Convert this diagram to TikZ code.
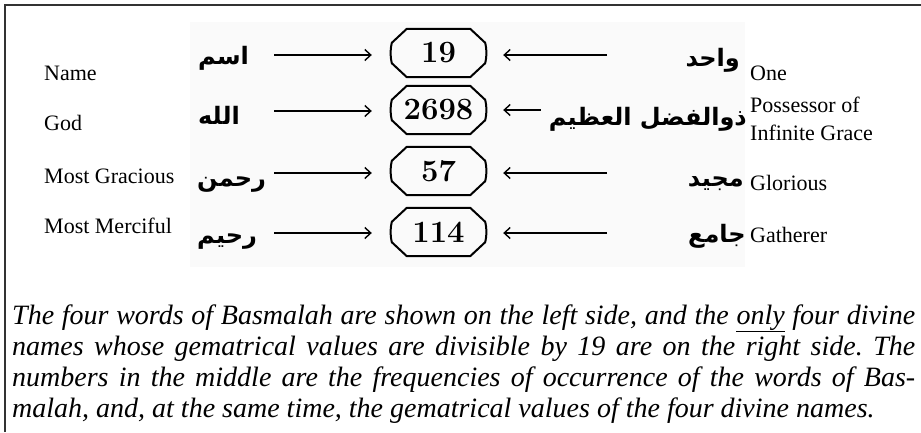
\documentclass[tikz,border=0pt]{standalone}
\usepackage{fontspec}
\newfontfamily\lserif{Liberation Serif}
\newfontfamily\arabicfont[Script=Arabic]{DejaVu Sans}
\TeXXeTstate=1
\usetikzlibrary{arrows.meta}
\begin{document}
\frenchspacing
\begin{tikzpicture}[x=1pt,y=-1pt,
  lab/.style={font=\lserif\fontsize{22}{28}\selectfont, inner sep=0pt},
  ar/.style={font=\arabicfont\bfseries\fontsize{24}{28}\selectfont, inner sep=0pt},
  numbox/.style={font=\fontsize{31}{31}\selectfont\bfseries, minimum width=93pt, minimum height=48pt, inner sep=0pt},
  octline/.style={line width=2pt, line join=round},
  arr/.style={line width=1.4pt, -{Straight Barb[length=6pt,width=11pt,line width=1.4pt]}},
  captxt/.style={font=\lserif\itshape\fontsize{28}{31}\selectfont, inner sep=0pt, anchor=base west}]
\useasboundingbox (0,0) rectangle (921,432);
\fill[white] (0,0) rectangle (921,432);
\fill[black!2] (190,22) rectangle (745,267);
\draw[line width=2pt, black!80] (5,432) -- (5,5) -- (921,5);

% left English labels
\node[lab, anchor=base west] (n1) at (44,80) {Name};
\node[lab, anchor=base west] (n2) at (44,130) {God};
\node[lab, anchor=base west] (n3) at (44,183) {Most Gracious};
\node[lab, anchor=base west] (n4) at (44,233) {Most Merciful};

% left Arabic words
\node[ar, anchor=base west] (la1) at (198,64) {\beginR اسم\endR};
\node[ar, anchor=base west] (la2) at (198,124) {\beginR الله\endR};
\node[ar, anchor=base west] (la3) at (197,186) {\beginR رحمن\endR};
\node[ar, anchor=base west] (la4) at (197,243) {\beginR رحيم\endR};

% number boxes
\node[numbox] (b1) at (438.5,53) {19};
\node[numbox] (b2) at (438.5,110) {2698};
\node[numbox] (b3) at (438.5,171) {57};
\node[numbox] (b4) at (438.5,232) {114};
\foreach \b in {b1,b2,b3,b4}{
  \draw[octline] ([xshift=15pt]\b.north west) -- ([xshift=-15pt]\b.north east)
    -- ([yshift=-14pt]\b.north east) to[bend left=12] ([yshift=14pt]\b.south east)
    -- ([xshift=-15pt]\b.south east) -- ([xshift=15pt]\b.south west)
    -- ([yshift=14pt]\b.south west) to[bend left=12] ([yshift=-14pt]\b.north west) -- cycle;
}

% right Arabic words
\node[ar, anchor=base east] (ra1) at (740,66) {\beginR واحد\endR};
\node[ar, anchor=base east] (ra2) at (747,125) {\beginR ذوالفضل العظيم\endR};
\node[ar, anchor=base east] (ra3) at (744,186) {\beginR مجيد\endR};
\node[ar, anchor=base east] (ra4) at (746,242) {\beginR جامع\endR};

% right English labels
\node[lab, anchor=base west] (e1) at (750,80) {One};
\node[lab, anchor=north west, align=left] (e2) at (750,97) {Possessor of\\Infinite Grace};
\node[lab, anchor=base west] (e3) at (750,190) {Glorious};
\node[lab, anchor=base west] (e4) at (750,242) {Gatherer};

% arrow tails on the right
\coordinate (t1) at (607,55);
\coordinate (t3) at (607,173);
\coordinate (t4) at (607,233);

% left arrows
\draw[arr, shorten >=20pt] (274,55) -- (b1.west |- t1);
\draw[arr, shorten >=20pt] (274,111) -- ([yshift=-1pt]b2.west);
\draw[arr, shorten >=20pt] (274,173) -- (b3.west |- t3);
\draw[arr, shorten >=20pt] (274,233) -- (b4.west |- t4);

% right arrows
\draw[arr, shorten >=18pt] (t1) -- (b1.east |- t1);
\draw[arr, shorten >=18pt] ([xshift=-8pt]ra2.west |- b2.east) -- (b2.east);
\draw[arr, shorten >=18pt] (t3) -- (b3.east |- t3);
\draw[arr, shorten >=18pt] (t4) -- (b4.east |- t4);

% caption
\node[captxt] (c1) at (12,324) {\makebox[903pt][s]{The four words of Basmalah are shown on the left side, and the \underline{only} four divine}};
\node[captxt] (c2) at (12,355) {\makebox[903pt][s]{names whose gematrical values are divisible by 19 are on the right side. The}};
\node[captxt] (c3) at (12,386) {\makebox[903pt][s]{numbers in the middle are the frequencies of occurrence of the words of Bas-}};
\node[captxt] (c4) at (12,417) {malah, and, at the same time, the gematrical values of the four divine names.};
\end{tikzpicture}
\end{document}
